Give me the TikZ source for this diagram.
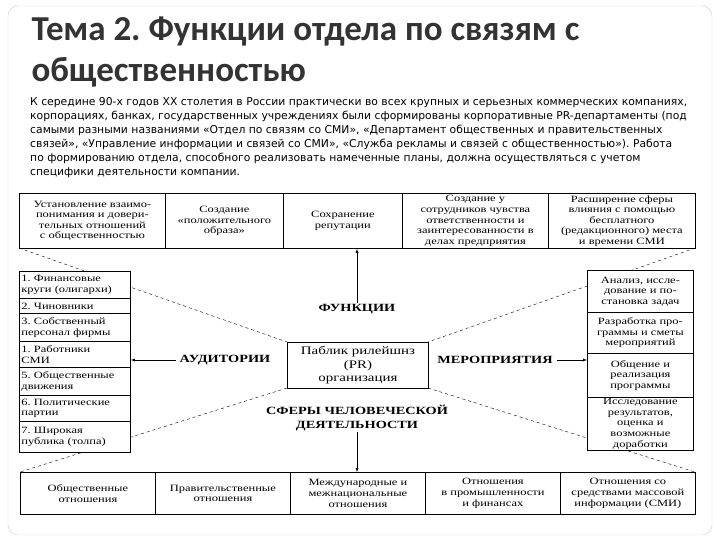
\documentclass[tikz,border=0pt]{standalone}
\usepackage{fontspec}
\setmainfont{Liberation Serif}
\newfontfamily\wideserif[FakeStretch=1.3]{Liberation Serif}
\newfontfamily\titlefont{Carlito}
\newfontfamily\bodyfont{DejaVu Sans}
\frenchspacing
\begin{document}
\begin{tikzpicture}[x=1pt,y=-1pt,
  cell/.style={draw,thick,fill=white,anchor=north west,inner sep=1pt,align=center,font=\wideserif\fontsize{9.6}{10.6}\selectfont},
  lbl/.style={font=\wideserif\bfseries\fontsize{11}{12}\selectfont,inner sep=1pt,align=center},
  dsh/.style={dashed,thin},
  arr/.style={-latex,thin}]
\useasboundingbox (0,0) rectangle (720,540);
\draw[gray!40,rounded corners=10pt] (8,6) rectangle (712,535);
\node[anchor=west,text=black!80,font=\titlefont\bfseries\fontsize{35}{38}\selectfont] (t1) at (28,31) {Тема 2. Функции отдела по связям с};
\node[anchor=west,text=black!80,font=\titlefont\bfseries\fontsize{35}{38}\selectfont] (t2) at (28,72) {общественностью};
\node[anchor=north west,align=left,inner sep=0,font=\bodyfont\fontsize{10.8}{14}\selectfont] (body) at (30,97) {К середине 90-х годов XX столетия в России практически во всех крупных и серьезных коммерческих компаниях,\\корпорациях, банках, государственных учреждениях были сформированы корпоративные PR-департаменты (под\\самыми разными названиями «Отдел по связям со СМИ», «Департамент общественных и правительственных\\связей», «Управление информации и связей со СМИ», «Служба рекламы и связей с общественностью»). Работа\\по формированию отдела, способного реализовать намеченные планы, должна осуществляться с учетом\\специфики деятельности компании.};
% dashed funnel (behind boxes)
\coordinate (p1) at (19,248);
\coordinate (p2) at (287,342);
\coordinate (p3) at (287,388);
\coordinate (p4) at (20,472);
\coordinate (p5) at (695,248);
\coordinate (p6) at (428,342);
\coordinate (p7) at (428,388);
\coordinate (p8) at (695,472);
\draw[dsh] (p1) -- (p2);
\draw[dsh] (p3) -- (p4);
\draw[dsh] (p5) -- (p6);
\draw[dsh] (p7) -- (p8);
% top row
\node[cell,minimum width=146,minimum height=55] (f1) at (19,193) {Установление взаимо-\\понимания и довери-\\тельных отношений\\с общественностью};
\node[cell,minimum width=118,minimum height=55] (f2) at (165,193) {Создание\\«положительного\\образа»};
\node[cell,minimum width=119,minimum height=55] (f3) at (283,193) {Сохранение\\репутации};
\node[cell,minimum width=146,minimum height=55] (f4) at (402,193) {Создание у\\сотрудников чувства\\ответственности и\\заинтересованности в\\делах предприятия};
\node[cell,minimum width=147,minimum height=55] (f5) at (548,193) {Расширение сферы\\влияния с помощью\\бесплатного\\(редакционного) места\\и времени СМИ};
% left column
\node[cell,minimum width=111,minimum height=27,align=left,text width=107] (a1) at (19,271) {1. Финансовые\\круги (олигархи)};
\node[cell,minimum width=111,minimum height=15,align=left,text width=107] (a2) at (19,298) {2. Чиновники};
\node[cell,minimum width=111,minimum height=28,align=left,text width=107] (a3) at (19,313) {3. Собственный\\персонал фирмы};
\node[cell,minimum width=111,minimum height=26,align=left,text width=107] (a4) at (19,341) {1. Работники\\СМИ};
\node[cell,minimum width=111,minimum height=28,align=left,text width=107] (a5) at (19,367) {5. Общественные\\движения};
\node[cell,minimum width=111,minimum height=26,align=left,text width=107] (a6) at (19,395) {6. Политические\\партии};
\node[cell,minimum width=111,minimum height=31,align=left,text width=107] (a7) at (19,421) {7. Широкая\\публика (толпа)};
% right column
\node[cell,minimum width=106,minimum height=42] (m1) at (587,270) {Анализ, иссле-\\дование и по-\\становка задач};
\node[cell,minimum width=106,minimum height=41] (m2) at (587,312) {Разработка про-\\граммы и сметы\\мероприятий};
\node[cell,minimum width=106,minimum height=44] (m3) at (587,353) {Общение и\\реализация\\программы};
\node[cell,minimum width=106,minimum height=50] (m4) at (587,397) {Исследование\\результатов,\\оценка и\\возможные\\доработки};
% center
\node[cell,minimum width=141,minimum height=46,font=\wideserif\fontsize{11.5}{13.5}\selectfont] (pr) at (287,342) {Паблик рилейшнз\\(PR)\\организация};
% bottom row
\node[cell,minimum width=135,minimum height=42] (s1) at (20,472) {Общественные\\отношения};
\node[cell,minimum width=135,minimum height=42] (s2) at (155,472) {Правительственные\\отношения};
\node[cell,minimum width=135,minimum height=42] (s3) at (290,472) {Международные и\\межнациональные\\отношения};
\node[cell,minimum width=135,minimum height=42] (s4) at (425,472) {Отношения\\в промышленности\\и финансах};
\node[cell,minimum width=135,minimum height=42] (s5) at (560,472) {Отношения со\\средствами массовой\\информации (СМИ)};
% labels
\node[lbl] (lf) at (357,309) {ФУНКЦИИ};
\node[lbl] (la) at (225,360) {АУДИТОРИИ};
\node[lbl] (lm) at (495,360) {МЕРОПРИЯТИЯ};
\node[lbl,font=\wideserif\bfseries\fontsize{11}{14}\selectfont] (ls) at (357,418) {СФЕРЫ ЧЕЛОВЕЧЕСКОЙ\\ДЕЯТЕЛЬНОСТИ};
% arrows
\draw[arr] (lf.north) -- (f3.south -| lf);
\draw[arr] (la.west) ++(-3,0) coordinate (laa) -- (laa -| a4.east);
\draw[arr] (lm.east) ++(3,0) coordinate (lma) -- (lma -| m3.west);
\draw[arr] (ls.south) -- (s3.north -| ls);
\end{tikzpicture}
\end{document}
